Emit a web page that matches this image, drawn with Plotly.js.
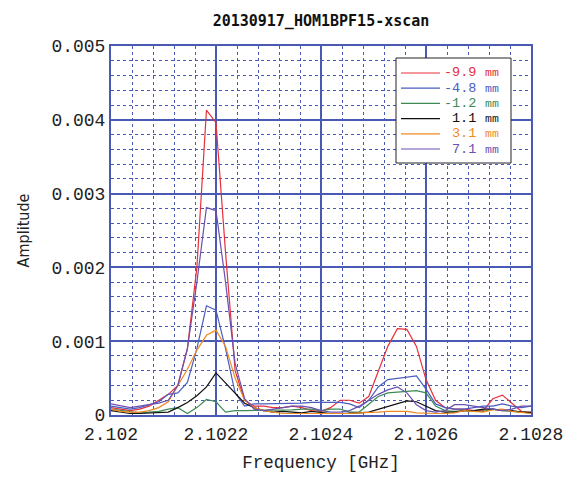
<!DOCTYPE html>
<html>
<head>
<meta charset="utf-8">
<script src="https://cdn.plot.ly/plotly-3.0.1.min.js"></script>
<style>
html,body{margin:0;padding:0;background:#fff;}
#chart{width:564px;height:479px;}
</style>
</head>
<body>
<div id="chart"></div>
<script>
// Frequency points [GHz]
const freq = [2.102, 2.1020182, 2.1020364, 2.1020545, 2.1020727, 2.1020909, 2.1021091, 2.1021273, 2.1021455,
  2.1021636, 2.1021818, 2.1022, 2.1022182, 2.1022364, 2.1022545, 2.1022727, 2.1022909, 2.1023091,
  2.1023273, 2.1023455, 2.1023636, 2.1023818, 2.1024, 2.1024182, 2.1024364, 2.1024545, 2.1024727,
  2.1024909, 2.1025091, 2.1025273, 2.1025455, 2.1025636, 2.1025818, 2.1026, 2.1026182, 2.1026364,
  2.1026545, 2.1026727, 2.1026909, 2.1027091, 2.1027273, 2.1027455, 2.1027636, 2.1027818, 2.1028];

const seriesNumbers = ["-9.9", "-4.8", "-1.2", "1.1", "3.1", "7.1"];
const seriesUnit = "mm";
const seriesColors = ["#e8303a", "#4a5cc0", "#3d8a55", "#101010", "#f08a24", "#6a50b0"];

const amp_m99 = [0.0001, 0.00008, 0.00006, 0.00008, 0.00012, 0.0002, 0.00028, 0.0004, 0.0009, 0.002,
  0.00413, 0.00396, 0.0022, 0.0006, 0.0002, 0.00012, 0.00012, 0.0001, 0.0001, 0.00012,
  0.0001, 0.00006, 0.00005, 0.0001, 0.0002, 0.0002, 0.00016, 0.00025, 0.0006, 0.00093,
  0.00117, 0.00116, 0.00093, 0.00048, 0.0002, 0.0001, 0.00008, 0.00008, 0.00006, 0.00006,
  0.00022, 0.00027, 0.00016, 0.00005, 0.00004];
const amp_m48 = [0.00012, 0.0001, 0.00008, 0.0001, 0.00014, 0.00018, 0.00028, 0.0003, 0.00044, 0.0009,
  0.00148, 0.00142, 0.0009, 0.0003, 0.00012, 0.00015, 0.00015, 0.00015, 0.00015, 0.00016,
  0.00016, 0.00017, 0.00017, 0.00017, 0.00017, 0.00015, 0.0001, 0.0002, 0.00038, 0.00048,
  0.0005, 0.00051, 0.00053, 0.00035, 0.00015, 0.0001, 0.00008, 0.00008, 0.0001, 0.00012,
  0.00012, 0.00015, 0.00012, 0.0001, 0.00012];
const amp_m12 = [0.00008, 0.00006, 0.00004, 0.00003, 0.00004, 0.00005, 0.00008, 0.0001, 0.00002, 0.0001,
  0.00021, 0.00018, 0.00004, 0.00006, 0.00006, 0.00006, 0.00006, 0.00006, 0.00006, 0.00007,
  0.00008, 0.00008, 0.00006, 0.00008, 0.00008, 0.00004, 0.00004, 0.00015, 0.00025, 0.0003,
  0.00031, 0.00032, 0.00033, 0.0003, 0.00012, 0.00006, 0.00005, 0.00006, 0.00006, 0.00005,
  0.00008, 0.00006, 0.00005, 0.00004, 0.00004];
const amp_p11 = [0.00006, 0.00004, 0.00002, 0.00002, 0.00003, 0.00003, 0.00004, 0.0001, 0.00017, 0.00026,
  0.00038, 0.00057, 0.00043, 0.0003, 0.00016, 0.0001, 0.00006, 0.00004, 0.00005, 0.00004,
  0.00003, 0.00005, 0.00003, 0.00002, 0.00002, 0.00002, 0.00003, 0.00004, 0.00008, 0.00012,
  0.00016, 0.00019, 0.00018, 0.00012, 0.00006, 0.00004, 0.00004, 0.00006, 0.00006, 0.00008,
  0.00008, 0.00006, 0.00006, 0.00004, 0.00003];
const amp_p31 = [0.00008, 0.00005, 0.00004, 0.00004, 0.00006, 0.0001, 0.00018, 0.0004, 0.00062, 0.00088,
  0.00108, 0.00115, 0.00093, 0.0005, 0.0002, 0.0001, 0.00006, 0.00004, 0.00002, 0.00002,
  0.00002, 0.00002, 0.00001, 0.00001, 0.00001, 0.00002, 0.00003, 0.00003, 0.00004, 0.00005,
  0.00005, 0.00005, 0.00003, 0.00002, 0.00002, 0.00002, 0.00003, 0.00006, 0.00005, 0.00004,
  0.00007, 0.00008, 0.00005, 0.00003, 0.00002];
const amp_p71 = [0.00015, 0.00012, 0.0001, 0.00012, 0.00014, 0.00016, 0.0002, 0.0004, 0.0009, 0.0018,
  0.00281, 0.00277, 0.0018, 0.0007, 0.00022, 0.00008, 0.00006, 0.00008, 0.0001, 0.00012,
  0.00012, 0.0001, 0.00006, 0.00004, 0.00004, 0.00006, 0.00012, 0.0002, 0.00028, 0.00034,
  0.00038, 0.0003, 0.00014, 0.00006, 0.00004, 0.00006, 0.00014, 0.00014, 0.00012, 0.0001,
  0.00008, 0.00006, 0.00008, 0.00012, 0.00012];

const xTickVals = [2.102, 2.1022, 2.1024, 2.1026, 2.1028];
const xTickText = ["2.102", "2.1022", "2.1024", "2.1026", "2.1028"];
const yTickVals = [0, 0.001, 0.002, 0.003, 0.004, 0.005];
const yTickText = ["0", "0.001", "0.002", "0.003", "0.004", "0.005"];

const seriesValues = [amp_m99, amp_m48, amp_m12, amp_p11, amp_p31, amp_p71];

const traces = seriesValues.map((vals, i) => ({
  x: freq,
  y: vals,
  type: "scatter",
  mode: "lines",
  name: seriesNumbers[i] + " " + seriesUnit,
  showlegend: false,
  line: {color: seriesColors[i], width: 1.2}
}));

// plot area in pixels (for placing the drawn legend box)
const PL = 111, PR = 531, PT = 46, PB = 415;
const px2x = p => (p - PL) / (PR - PL);
const px2y = p => (PB - p) / (PB - PT);

const legendRows = [73, 88.2, 103.4, 118.6, 133.8, 149];
const shapes = [{
  type: "rect", xref: "paper", yref: "paper", layer: "above",
  x0: px2x(396), x1: px2x(511), y0: px2y(163), y1: px2y(58),
  line: {color: "#222", width: 1}, fillcolor: "#fff"
}];
const annotations = [];
const mono = "DejaVu Sans Mono, monospace";
const thinMono = "Liberation Mono, DejaVu Sans Mono, monospace";
legendRows.forEach((ry, i) => {
  shapes.push({
    type: "line", xref: "paper", yref: "paper", layer: "above",
    x0: px2x(401), x1: px2x(440), y0: px2y(ry), y1: px2y(ry),
    line: {color: seriesColors[i], width: 1.2}
  });
  annotations.push({
    xref: "paper", yref: "paper", x: px2x(477), y: px2y(ry),
    xanchor: "right", yanchor: "middle", showarrow: false, borderpad: 0,
    text: seriesNumbers[i],
    font: {family: thinMono, size: 13.5, color: seriesColors[i]}
  });
  annotations.push({
    xref: "paper", yref: "paper", x: px2x(484), y: px2y(ry),
    xanchor: "left", yanchor: "middle", showarrow: false, borderpad: 0,
    text: seriesUnit,
    font: {family: thinMono, size: 11.5, color: seriesColors[i]}
  });
});

const gridBlue = "#4a5ab4";
const tickFont = {family: thinMono, size: 18, color: "#222"};

const layout = {
  width: 564,
  height: 479,
  margin: {l: PL, r: 564 - PR, t: PT, b: 479 - PB},
  paper_bgcolor: "#fff",
  plot_bgcolor: "#fff",
  showlegend: false,
  title: {
    text: "<b>20130917_HOM1BPF15-xscan</b>",
    font: {family: mono, size: 15, color: "#111"},
    x: 0.5, xref: "paper", xanchor: "center",
    y: 1 - 21 / 479, yref: "container", yanchor: "middle"
  },
  xaxis: {
    range: [2.102, 2.1028],
    tickvals: xTickVals,
    ticktext: xTickText,
    tickfont: tickFont,
    ticks: "",
    ticklabeloverflow: "allow",
    ticklabelstandoff: 1,
    showline: true, mirror: true, linecolor: gridBlue, linewidth: 2,
    showgrid: true, gridcolor: gridBlue, gridwidth: 2,
    zeroline: false,
    minor: {dtick: 0.00004, tick0: 2.102, showgrid: true, gridcolor: gridBlue, griddash: "dot", gridwidth: 1, ticks: ""},
    title: {text: "Frequency [GHz]", font: {family: thinMono, size: 17.5, color: "#222"}, standoff: 12},
    automargin: false
  },
  yaxis: {
    range: [0, 0.005],
    tickvals: yTickVals,
    ticktext: yTickText,
    tickfont: tickFont,
    ticks: "",
    showline: true, mirror: true, linecolor: gridBlue, linewidth: 2,
    showgrid: true, gridcolor: gridBlue, gridwidth: 2,
    zeroline: false,
    minor: {dtick: 0.0002, tick0: 0, showgrid: true, gridcolor: gridBlue, griddash: "dot", gridwidth: 1, ticks: ""},
    title: {text: "Amplitude", font: {family: "DejaVu Sans Condensed, DejaVu Sans, sans-serif", size: 16, color: "#222"}, standoff: 18},
    automargin: false
  },
  shapes: shapes,
  annotations: annotations
};

Plotly.newPlot("chart", traces, layout, {displayModeBar: false, staticPlot: true});
</script>
</body>
</html>
